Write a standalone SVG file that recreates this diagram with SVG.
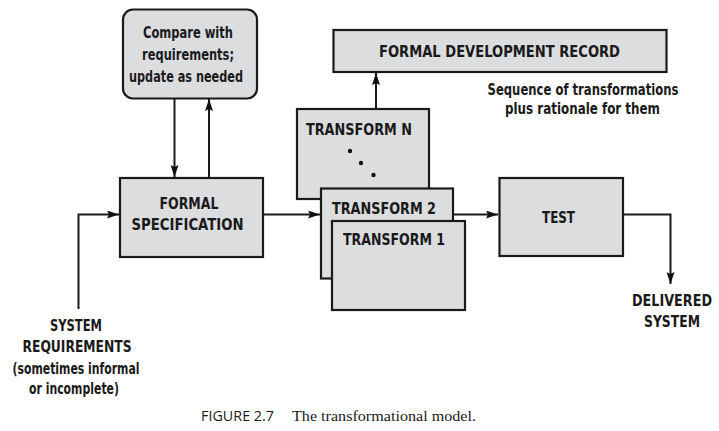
<svg xmlns="http://www.w3.org/2000/svg" width="719" height="431" viewBox="0 0 719 431">
<defs>
<marker id="ah" viewBox="0 0 12 8" refX="12" refY="4" markerWidth="12" markerHeight="8" markerUnits="userSpaceOnUse" orient="auto">
<path d="M0,0 L12,4 L0,8 L2,4 Z" fill="#111"/>
</marker>
<style>
.box{fill:#dcdddf;stroke:#1a1a1a;stroke-width:2.2}
.t{font-family:"DejaVu Sans Condensed","DejaVu Sans","Liberation Sans",sans-serif;font-stretch:condensed;font-weight:bold;font-size:15px;fill:#1a1a1a}
.c{text-anchor:middle}
.ln{fill:none;stroke:#1a1a1a;stroke-width:2}
</style>
</defs>
<rect width="719" height="431" fill="#fff"/>
<g id="connectors">
<path class="ln" d="M174.5,98 V177" marker-end="url(#ah)"/>
<path class="ln" d="M209,178 V99" marker-end="url(#ah)"/>
<path class="ln" d="M78.5,309 V214.5 H119" marker-end="url(#ah)"/>
<path class="ln" d="M263,214.5 H320" marker-end="url(#ah)"/>
<path class="ln" d="M453,214.5 H498" marker-end="url(#ah)"/>
<path class="ln" d="M623,214.5 H670.5 V284" marker-end="url(#ah)"/>
<path class="ln" d="M376,109 V73" marker-end="url(#ah)"/>
</g>
<g id="compare">
<rect class="box" x="123" y="9.5" width="134" height="89" rx="10"/>
<text class="t c" x="188" y="38" textLength="90" lengthAdjust="spacingAndGlyphs">Compare with</text>
<text class="t c" x="188" y="60" textLength="92" lengthAdjust="spacingAndGlyphs">requirements;</text>
<text class="t c" x="186" y="82" textLength="114" lengthAdjust="spacingAndGlyphs">update as needed</text>
</g>
<g id="formal-spec">
<rect class="box" x="120" y="178" width="143" height="79"/>
<text class="t c" x="189" y="209" textLength="59" lengthAdjust="spacingAndGlyphs">FORMAL</text>
<text class="t c" x="187.5" y="229.5" textLength="112" lengthAdjust="spacingAndGlyphs">SPECIFICATION</text>
</g>
<g id="fdr">
<rect class="box" x="333.5" y="30" width="333" height="42"/>
<text class="t c" x="499.5" y="57" textLength="241" lengthAdjust="spacingAndGlyphs">FORMAL DEVELOPMENT RECORD</text>
</g>
<g id="fdr-note">
<text class="t c" x="583" y="94.5" textLength="191" lengthAdjust="spacingAndGlyphs">Sequence of transformations</text>
<text class="t c" x="582.5" y="114" textLength="155" lengthAdjust="spacingAndGlyphs">plus rationale for them</text>
</g>
<g id="transform-n">
<rect class="box" x="297" y="109" width="132" height="90"/>
<text class="t" x="306" y="135" textLength="106" lengthAdjust="spacingAndGlyphs">TRANSFORM N</text>
<circle cx="350" cy="151" r="2.2" fill="#111"/>
<circle cx="361" cy="163" r="2.2" fill="#111"/>
<circle cx="373.5" cy="175" r="2.2" fill="#111"/>
</g>
<g id="transform-2">
<rect class="box" x="321" y="188.5" width="132" height="90"/>
<text class="t" x="332" y="213.5" textLength="104" lengthAdjust="spacingAndGlyphs">TRANSFORM 2</text>
</g>
<g id="transform-1">
<rect class="box" x="332" y="221" width="133" height="89"/>
<text class="t" x="343" y="245" textLength="102" lengthAdjust="spacingAndGlyphs">TRANSFORM 1</text>
</g>
<g id="test">
<rect class="box" x="499.5" y="178" width="123.5" height="78"/>
<text class="t c" x="558.5" y="223" textLength="33" lengthAdjust="spacingAndGlyphs">TEST</text>
</g>
<g id="delivered">
<text class="t c" x="672" y="306" textLength="80" lengthAdjust="spacingAndGlyphs">DELIVERED</text>
<text class="t c" x="672" y="327" textLength="56" lengthAdjust="spacingAndGlyphs">SYSTEM</text>
</g>
<g id="system-req">
<text class="t c" x="76" y="330.5" textLength="52" lengthAdjust="spacingAndGlyphs">SYSTEM</text>
<text class="t c" x="77" y="352" textLength="109" lengthAdjust="spacingAndGlyphs">REQUIREMENTS</text>
<text class="t c" x="76" y="373.5" textLength="127" lengthAdjust="spacingAndGlyphs">(sometimes informal</text>
<text class="t c" x="74" y="393.5" textLength="90" lengthAdjust="spacingAndGlyphs">or incomplete)</text>
</g>
<g id="caption">
<text x="201" y="421" font-family="'Open Sans','Liberation Sans',sans-serif" font-size="15" fill="#1a1a1a" textLength="73" lengthAdjust="spacingAndGlyphs">FIGURE 2.7</text>
<text x="292" y="421" font-family="'Liberation Serif',serif" font-size="15" fill="#1a1a1a" textLength="184" lengthAdjust="spacingAndGlyphs">The transformational model.</text>
</g>
</svg>
